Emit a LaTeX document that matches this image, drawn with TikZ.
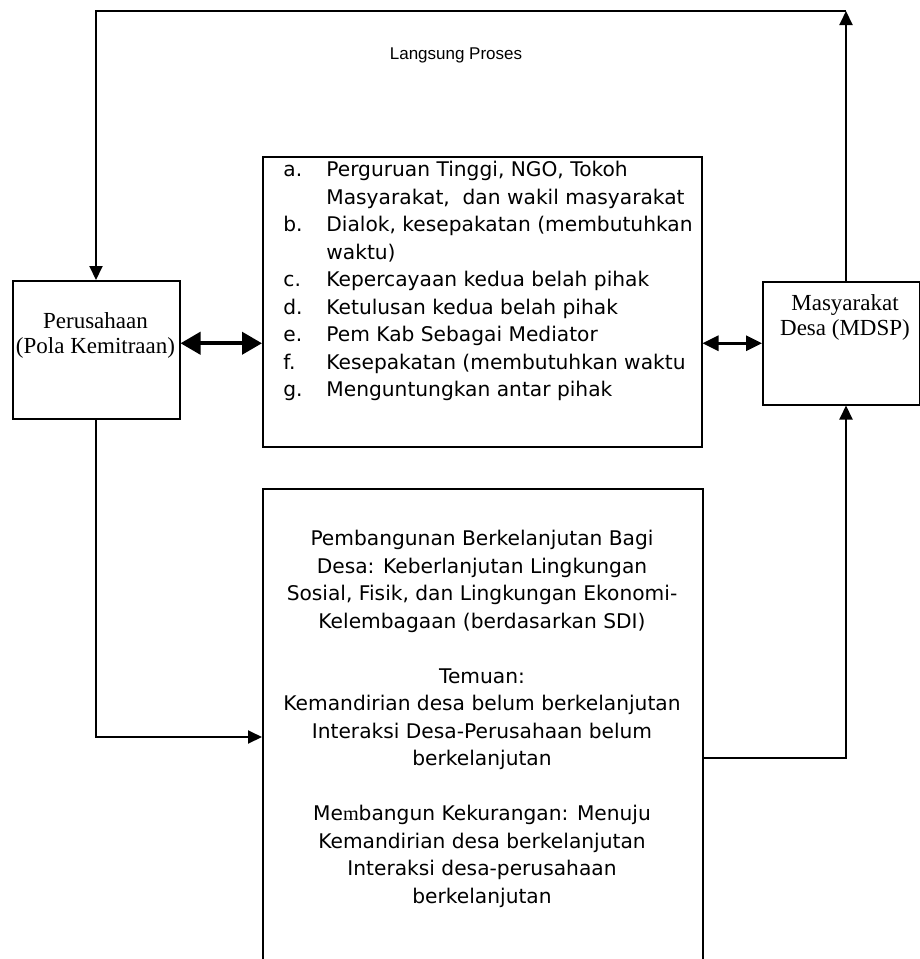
\documentclass[tikz,border=0pt]{standalone}
\usepackage{fontspec}
\setmainfont{Liberation Serif}
\newfontfamily\tahomafont{DejaVu Sans}
\newfontfamily\arialfont{Liberation Sans}
\usepackage{tikz}
\usetikzlibrary{arrows.meta, positioning, calc}

\newcommand{\itm}[1]{\makebox[21.5pt][l]{#1}}

\tikzset{
  %% Plain framed box
  rbox/.style={
    rectangle, draw=black, line width=0.75pt,
    inner sep=0pt
  },
  %% Serif text (side boxes)
  ttxt/.style={
    font=\fontsize{11.5}{12.5}\selectfont,
    align=center, inner sep=0pt
  },
  %% Sans text (middle boxes)
  stxt/.style={
    font=\tahomafont\fontsize{10.1}{13.75}\selectfont,
    inner sep=0pt
  },
  %% Arrows
  arr/.style={-{Triangle[length=7pt,width=6.5pt]}, line width=1pt},
  bigdarr/.style={{Triangle[length=10pt,width=11pt]}-%
                  {Triangle[length=10pt,width=11pt]}, line width=2pt},
  darr/.style={{Triangle[length=8pt,width=7.5pt]}-%
               {Triangle[length=8pt,width=7.5pt]}, line width=1.5pt},
}

\begin{document}
\begin{tikzpicture}[x=0.5pt, y=-0.5pt]

  \useasboundingbox (0,0) rectangle (920,959);

  %% Side boxes
  \node[rbox, anchor=north west, minimum width=83.5pt, minimum height=69pt]
        (pers) at (12,280) {};
  \node[ttxt] (perstxt) at (95.5,335.5) {Perusahaan\\(Pola Kemitraan)};

  \node[rbox, anchor=north west, minimum width=78.5pt, minimum height=61.5pt]
        (mdsp) at (762,281) {};
  \node[ttxt] (mdsptxt) at (845,317.5) {Masyarakat\\Desa (MDSP)};

  %% Middle boxes
  \node[rbox, anchor=north west, minimum width=219.5pt, minimum height=145pt]
        (list) at (262,156) {};
  \node[stxt, align=left, anchor=north west] (listtxt) at (283,161)
        {\itm{a.}Perguruan Tinggi, NGO, Tokoh\\
         \itm{}Masyarakat,\ \ dan wakil masyarakat\\
         \itm{b.}Dialok, kesepakatan (membutuhkan\\
         \itm{}waktu)\\
         \itm{c.}Kepercayaan kedua belah pihak\\
         \itm{d.}Ketulusan kedua belah pihak\\
         \itm{e.}Pem Kab Sebagai Mediator\\
         \itm{f.}Kesepakatan (membutuhkan waktu\\
         \itm{g.}Menguntungkan antar pihak};

  \node[rbox, anchor=north west, minimum width=220pt, minimum height=250pt]
        (dev) at (262,488) {};
  \node[stxt, align=center, anchor=north] (devtxt) at (482,530)
        {Pembangunan Berkelanjutan Bagi\\
         Desa: Keberlanjutan Lingkungan\\
         Sosial, Fisik, dan Lingkungan Ekonomi-\\
         Kelembagaan (berdasarkan SDI)\\[13.75pt]
         Temuan:\\
         Kemandirian desa belum berkelanjutan\\
         Interaksi Desa-Perusahaan belum\\
         berkelanjutan\\[13.75pt]
         Me{\rmfamily m}bangun Kekurangan: Menuju\\
         Kemandirian desa berkelanjutan\\
         Interaksi desa-perusahaan\\
         berkelanjutan};

  %% Top loop
  \coordinate (tl) at (96,11);
  \coordinate (tr) at (846,11);
  \node[font=\arialfont\fontsize{8.5}{10}\selectfont] (proc) at (456,55)
        {Langsung Proses};

  \draw[arr] (tr |- mdsp.north) -- (tr);
  \draw[arr] (tr) -- (tl) -- (tl |- pers.north);

  %% Double arrows
  \draw[bigdarr] (pers.east |- mdsp.west) -- (list.west |- mdsp.west);
  \draw[darr] (list.east |- mdsp.west) -- (mdsp.west);

  %% Into and out of the lower box
  \coordinate (din) at (262,737);
  \coordinate (dout) at (702,758);
  \draw[arr] (pers.south) |- (din);
  \draw[arr] (dout) -| (tr |- mdsp.south);

\end{tikzpicture}
\end{document}
